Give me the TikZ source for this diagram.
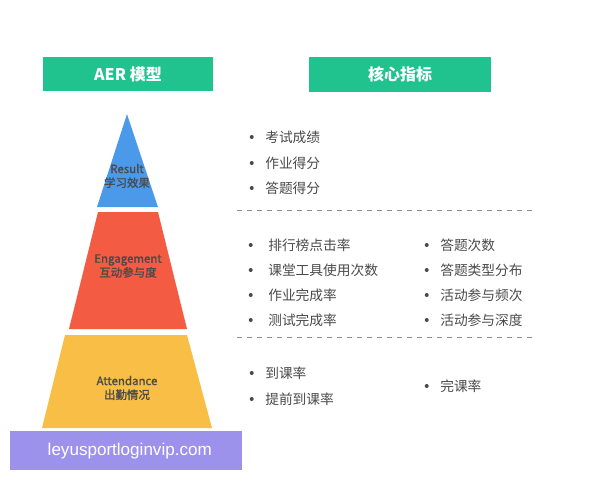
\documentclass[tikz,border=0pt]{standalone}
\usepackage{fontspec}
\setmainfont{Noto Sans CJK SC}
\newfontfamily\lvlfont{Noto Sans CJK SC}[FakeBold=1.2]
\newfontfamily\wmfont{Liberation Sans}
\usepackage{xcolor}
\usetikzlibrary{positioning}

\definecolor{hdrgreen}{HTML}{20C28D}
\definecolor{resblue}{HTML}{4A9AE9}
\definecolor{engred}{HTML}{F35B43}
\definecolor{attyellow}{HTML}{F9BE45}
\definecolor{wmpurple}{HTML}{9C92EC}
\definecolor{txtgray}{HTML}{4A4A4A}
\definecolor{sepgray}{HTML}{8C8C8C}

\begin{document}
\begin{tikzpicture}[
  x=0.75pt, y=-0.75pt,
  hdr/.style={fill=hdrgreen, text=white, minimum height=26pt, font=\fontsize{12}{14}\selectfont\bfseries},
  lvl/.style={align=center, text=txtgray, font=\lvlfont\fontsize{8.6}{10.5}\selectfont},
  dot/.style={circle, fill=txtgray, inner sep=0pt, minimum size=3pt},
  item/.style={anchor=west, inner sep=0pt, text=txtgray, font=\fontsize{10.3}{12}\selectfont,
    label={[dot, label distance=#1]left:{}}},
  item/.default=8.25pt,
  sep/.style={sepgray, line width=0.6pt, dash pattern=on 3.75pt off 3.75pt}
]
\useasboundingbox (0,0) rectangle (600,480);

% headers
\node[hdr, minimum width=127.5pt] (hdrmodel) at (128,74) {AER 模型};
\node[hdr, minimum width=137pt] (hdrmetric) at (400,74.5) {核心指标};

% pyramid
\fill[resblue] (127,114) -- (158,207) -- (97,207) -- cycle;
\fill[engred] (98,212) -- (158,212) -- (187,329) -- (69,329) -- cycle;
\fill[attyellow] (65,335) -- (187,335) -- (212,428) -- (42,428) -- cycle;
\node[lvl] (result) at (127,176) {Result\\学习效果};
\node[lvl] (engage) at (128,266) {Engagement\\互动参与度};
\node[lvl] (attend) at (127,388) {Attendance\\出勤情况};

% result metrics
\node[item] (r1) at (265,137) {考试成绩};
\node[item] (r2) at (265,163) {作业得分};
\node[item] (r3) at (265,188) {答题得分};
\draw[sep] (237,210) -- (535,210);

% engagement metrics
\node[item=11.25pt] (e1) at (268,245) {排行榜点击率};
\node[item=11.25pt] (e2) at (268,270) {课堂工具使用次数};
\node[item=11.25pt] (e3) at (268,295) {作业完成率};
\node[item=11.25pt] (e4) at (268,320) {测试完成率};
\node[item] (e5) at (440,245) {答题次数};
\node[item] (e6) at (440,270) {答题类型分布};
\node[item] (e7) at (440,295) {活动参与频次};
\node[item] (e8) at (440,320) {活动参与深度};
\draw[sep] (237,337) -- (535,337);

% attendance metrics
\node[item] (a1) at (265,373) {到课率};
\node[item] (a2) at (265,399) {提前到课率};
\node[item] (a3) at (440,386) {完课率};

% watermark
\node[fill=wmpurple, minimum width=174pt, minimum height=29pt] (wmbox) at (126,450.5) {};
\node[anchor=west, text=white, font=\wmfont\fontsize{12.8}{14}\selectfont] (wm) at (43,451) {leyusportloginvip.com};
\end{tikzpicture}
\end{document}
